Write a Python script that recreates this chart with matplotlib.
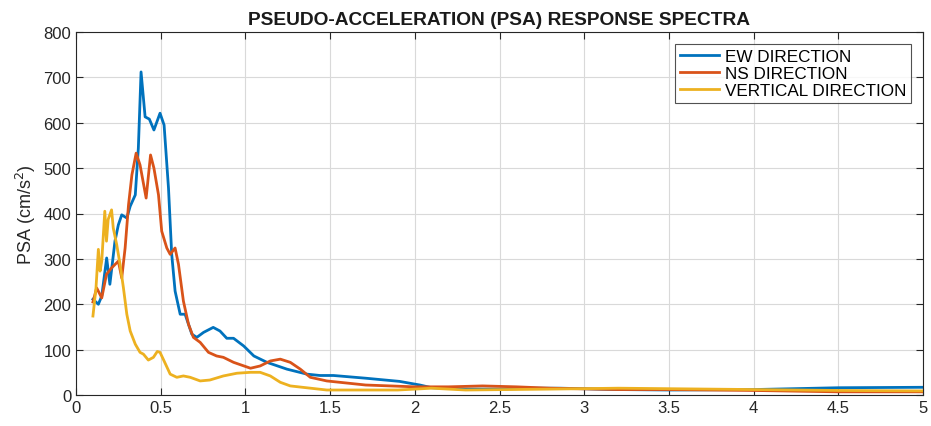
import matplotlib
matplotlib.use("Agg")
import matplotlib.pyplot as plt
from matplotlib.ticker import FuncFormatter

plt.rcParams['font.family'] = ['Liberation Sans', 'DejaVu Sans']

ew_x = [0.10, 0.132, 0.152, 0.181, 0.20, 0.23, 0.25, 0.27, 0.30, 0.32, 0.35, 0.368, 0.384, 0.408,
        0.433, 0.46, 0.496, 0.52, 0.546, 0.565, 0.585, 0.615, 0.644, 0.684, 0.713, 0.753, 0.81,
        0.85, 0.89, 0.93, 0.99, 1.05, 1.127, 1.245, 1.363, 1.44, 1.52, 1.71, 1.91, 2.03, 2.1,
        2.3, 2.5, 2.7, 2.86, 3.2, 3.5, 4.0, 4.5, 5.0]
ew_y = [211, 200, 218, 302, 244, 339, 375, 397, 390, 416, 441, 544, 712, 613,
        608, 584, 621, 595, 456, 310, 229, 178, 178, 134, 127, 138, 149,
        141, 125, 125, 108, 86, 72, 57, 46, 43, 43, 37, 30, 22, 16,
        13, 13, 15, 15, 12, 11, 12, 16, 17]

ns_x = [0.10, 0.122, 0.152, 0.18, 0.21, 0.25, 0.27, 0.29, 0.31, 0.33, 0.355, 0.378, 0.414, 0.44,
        0.46, 0.487, 0.506, 0.536, 0.556, 0.585, 0.605, 0.634, 0.664, 0.693, 0.733, 0.782, 0.83,
        0.87, 0.93, 1.03, 1.087, 1.147, 1.206, 1.265, 1.324, 1.383, 1.48, 1.71, 2.0, 2.2, 2.4,
        2.6, 2.8, 3.2, 3.5, 4.0, 4.5, 5.0]
ns_y = [205, 236, 214, 266, 280, 295, 258, 324, 419, 485, 533, 507, 434, 529,
        500, 441, 361, 324, 310, 324, 288, 207, 156, 127, 116, 94, 86,
        83, 72, 59, 64, 75, 79, 72, 57, 39, 31, 22, 18, 18, 20,
        18, 15, 12, 12, 10, 7, 7]

vt_x = [0.10, 0.118, 0.132, 0.142, 0.152, 0.17, 0.18, 0.19, 0.21, 0.22, 0.24, 0.26, 0.28, 0.30,
        0.32, 0.35, 0.378, 0.398, 0.427, 0.457, 0.48, 0.496, 0.52, 0.556, 0.595, 0.634, 0.674,
        0.733, 0.79, 0.87, 0.95, 1.03, 1.087, 1.147, 1.206, 1.265, 1.48, 1.9, 2.1, 2.3, 2.8,
        3.2, 4.0, 4.5, 5.0]
vt_y = [174, 236, 321, 273, 295, 405, 339, 387, 408, 368, 332, 288, 236, 178,
        141, 112, 94, 90, 77, 83, 96, 94, 75, 46, 39, 42, 39,
        31, 33, 42, 48, 50, 50, 42, 28, 20, 11, 11, 15, 11, 13,
        15, 12, 10, 9]

labels = ['EW DIRECTION', 'NS DIRECTION', 'VERTICAL DIRECTION']
colors = ['#0072BD', '#D95319', '#EDB120']

fig = plt.figure(figsize=(9.31, 4.27), dpi=100)
ax = fig.add_axes([76/931, 31/427, (923-76)/931, (396-33)/427])

for xs, ys, lab, c in zip([ew_x, ns_x, vt_x], [ew_y, ns_y, vt_y], labels, colors):
    ax.plot(xs, ys, color=c, lw=2, label=lab)

ax.set_xlim(0, 5)
ax.set_ylim(0, 800)
ax.set_xticks([i * 0.5 for i in range(11)])
ax.set_yticks(range(0, 801, 100))
ax.xaxis.set_major_formatter(FuncFormatter(lambda v, p: f"{v:g}"))
ax.grid(True, color='#d9d9d9', lw=0.8)
ax.set_axisbelow(True)
ax.tick_params(direction='in', top=True, right=True, length=5, labelsize=12,
               colors='#262626', width=0.8)
for s in ax.spines.values():
    s.set_color('#262626')
    s.set_linewidth(0.8)

ax.set_ylabel('PSA (cm/s$^2$)', fontsize=13, color='#262626')
ax.set_title('PSEUDO-ACCELERATION (PSA) RESPONSE SPECTRA', fontsize=13.8,
             fontweight='bold', color='#1a1a1a', pad=6)

leg = ax.legend(loc='upper right', fontsize=12.3, frameon=True, fancybox=False,
                edgecolor='#262626', handlelength=2.3, handletextpad=0.3,
                borderpad=0.3, labelspacing=0.12, borderaxespad=0.7)
leg.get_frame().set_linewidth(0.8)

fig.savefig('out.png', dpi=100)
